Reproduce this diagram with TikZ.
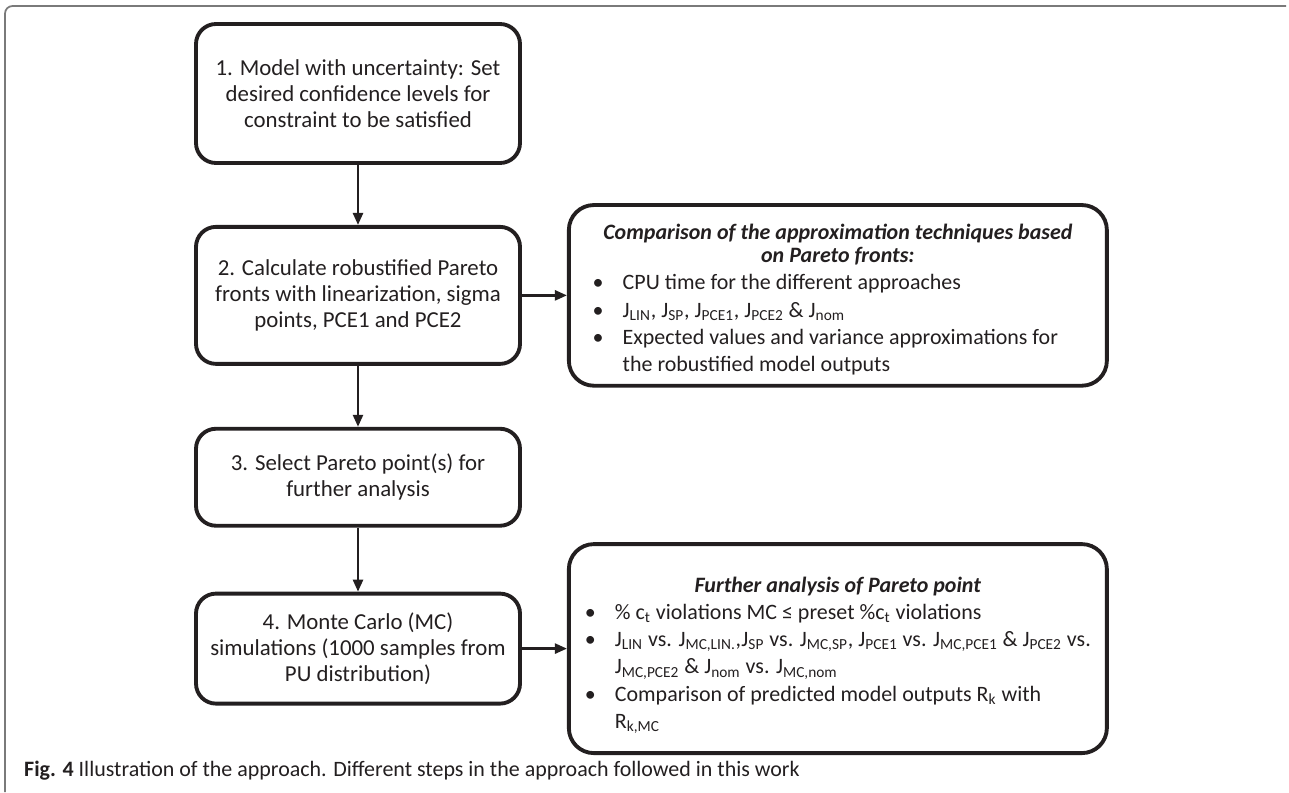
\documentclass[tikz,border=0pt]{standalone}
\usepackage{fontspec}
\setmainfont{Carlito}
\usepackage{tikz}
\usetikzlibrary{arrows.meta,positioning}
\definecolor{inkblack}{HTML}{231F20}
\definecolor{framegray}{HTML}{7A7A7A}

\begin{document}
\begin{tikzpicture}[every node/.style={font=\fontsize{12.5}{14.8}\selectfont,align=center,text=inkblack}, >={Triangle[length=2.4mm,width=2mm]},
  stepbox/.style={draw=inkblack, line width=2.2pt, rounded corners=0.4cm, minimum width=6.48cm, font=\fontsize{13}{14.8}\selectfont},
  infobox/.style={draw=inkblack, line width=2.2pt, rounded corners=0.5cm, minimum width=10.76cm, font=\fontsize{12.5}{15.5}\selectfont},
  flow/.style={->, line width=1.4pt, draw=inkblack}]
  \useasboundingbox (0,0) rectangle (25.78,-15.84);
  % figure frame
  \draw[framegray, line width=1pt, rounded corners=0.15cm] (0.1,-15.84) -- (0.1,-0.12) -- (25.72,-0.12);
  % steps
  \node[stepbox, minimum height=2.78cm] (model) at (7.16,-1.87) {1. Model with uncertainty: Set\\desired confidence levels for\\constraint to be satisfied};
  \node[stepbox, minimum height=2.74cm, below=1.2cm of model] (pareto) {2. Calculate robustified Pareto\\fronts with linearization, sigma\\points, PCE1 and PCE2};
  \node[stepbox, minimum height=1.94cm, below=1.22cm of pareto] (select) {3. Select Pareto point(s) for\\further analysis};
  \node[stepbox, minimum height=2.2cm, below=1.28cm of select] (mc) {4. Monte Carlo (MC)\\simulations (1000 samples from\\PU distribution)};
  % comparison boxes
  \node[infobox, minimum height=3.36cm, right=0.9cm of pareto] (cmp) {\begin{tabular}{@{}p{0.6cm}@{}l@{}}
    \multicolumn{2}{c}{\rule{0pt}{16pt}\textbf{\textit{Comparison of the approximation techniques based}}}\\[-2pt]
    \multicolumn{2}{c}{\textbf{\textit{on Pareto fronts:}}}\\
    \textbullet & CPU time for the different approaches\\
    \textbullet & J\textsubscript{LIN}, J\textsubscript{SP}, J\textsubscript{PCE1}, J\textsubscript{PCE2} \& J\textsubscript{nom}\\
    \textbullet & Expected values and variance approximations for\\
     & the robustified model outputs
  \end{tabular}};
  \node[infobox, minimum height=4.18cm, right=0.9cm of mc] (fa) {\begin{tabular}{@{}p{0.6cm}@{}l@{}}
    \multicolumn{2}{c}{\rule{0pt}{18pt}\textbf{\textit{Further analysis of Pareto point}}}\\
    \textbullet & \% c\textsubscript{t} violations MC ≤ preset \%c\textsubscript{t} violations\\
    \textbullet & J\textsubscript{LIN} vs. J\textsubscript{MC,LIN.},J\textsubscript{SP} vs. J\textsubscript{MC,SP}, J\textsubscript{PCE1} vs. J\textsubscript{MC,PCE1} \& J\textsubscript{PCE2} vs.\\
     & J\textsubscript{MC,PCE2} \& J\textsubscript{nom} vs. J\textsubscript{MC,nom}\\
    \textbullet & Comparison of predicted model outputs R\textsubscript{k} with\\
     & R\textsubscript{k,MC}
  \end{tabular}};
  \draw[flow] (model) -- (pareto);
  \draw[flow] (pareto) -- (select);
  \draw[flow] (select) -- (mc);
  \draw[flow] (pareto) -- (cmp);
  \draw[flow] (mc) -- (fa);
  % caption
  \node[anchor=base west, font=\fontsize{12.5}{15}\selectfont] (caption) at (0.36,-15.52) {\textbf{Fig. 4} Illustration of the approach. Different steps in the approach followed in this work};
\end{tikzpicture}
\end{document}
